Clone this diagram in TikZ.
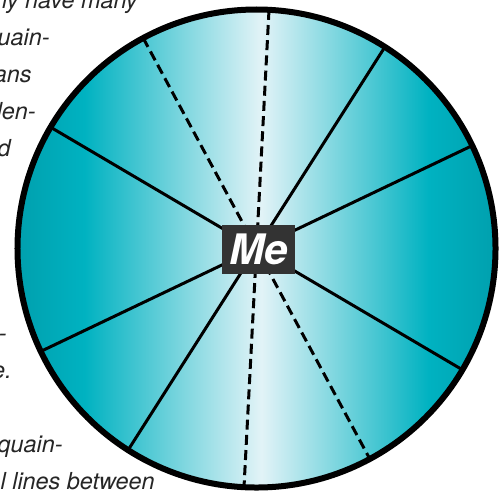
\documentclass[tikz,border=0pt]{standalone}
\usepackage{fontspec}
\setmainfont{TeX Gyre Heros}
\usepackage{xcolor}
\usepackage{tikz}
\usetikzlibrary{positioning}

\definecolor{tealdark}{RGB}{0,160,174}
\definecolor{tealmid}{RGB}{0,178,193}
\definecolor{teallight}{RGB}{226,243,247}
\pgfdeclarehorizontalshading{wheelshade}{100bp}{%
  color(0bp)=(tealdark); color(25bp)=(tealdark); color(32bp)=(tealmid);
  color(50.5bp)=(teallight); color(68bp)=(tealmid); color(75bp)=(tealdark);
  color(100bp)=(tealdark)}

\begin{document}
\begin{tikzpicture}[
    x=0.5pt, y=0.5pt,
    bodytext/.style={anchor=base east, inner sep=0pt, text=black!85,
                     font=\fontsize{11.7pt}{14pt}\selectfont\itshape},
    rim/.style={draw=black, line width=3pt},
    spoke/.style={black, line width=1.5pt},
    dashspoke/.style={black, line width=1.5pt, dash pattern=on 5pt off 2.6pt},
    mebox/.style={fill=black!80, text=white, minimum width=36.5pt, minimum height=24.5pt,
                  inner sep=0pt, font=\fontsize{21pt}{24pt}\selectfont\bfseries\itshape}
]
\useasboundingbox (-256.5,-244.5) rectangle (244.5,248.5);

% ---- Text behind the wheel (left column) ----
\node[bodytext] (t1) at (-118.5, 240.5) {ly have many};
\node[bodytext] (t2) at (-206.5, 203.5) {uain-};
\node[bodytext] (t3) at (-224.5, 166.5) {ans};
\node[bodytext] (t4) at (-220.5, 129.5) {den-};
\node[bodytext] (t5) at (-245.5,  92.5) {d};
\node[bodytext] (t6) at (-249.5, -92.5) {-};
\node[bodytext] (t7) at (-244.5,-129.5) {e.};
\node[bodytext] (t8) at (-193.5,-203.5) {quain-};
\node[bodytext] (t9) at (-101.5,-240.5) {l lines between};

% ---- Wheel ----
\coordinate (hub) at (0,0);
\shade[shading=wheelshade] (hub) circle (239);

% Solid spokes
\foreach \a [count=\i] in {25.5, 57.5, 149.5} {
  \coordinate (sa\i) at (\a:239);
  \coordinate (sb\i) at (\a+180:239);
  \draw[spoke] (sa\i) -- (sb\i);
}
% Dashed spokes
\foreach \a [count=\i] in {87, 118.3} {
  \coordinate (da\i) at (\a:239);
  \coordinate (db\i) at (\a+180:239);
  \draw[dashspoke] (da\i) -- (db\i);
}

% Outline
\draw[rim] (hub) circle (239);

% ---- Centre label ----
\node[mebox] (me) at (2,-1) {Me};

\end{tikzpicture}
\end{document}
